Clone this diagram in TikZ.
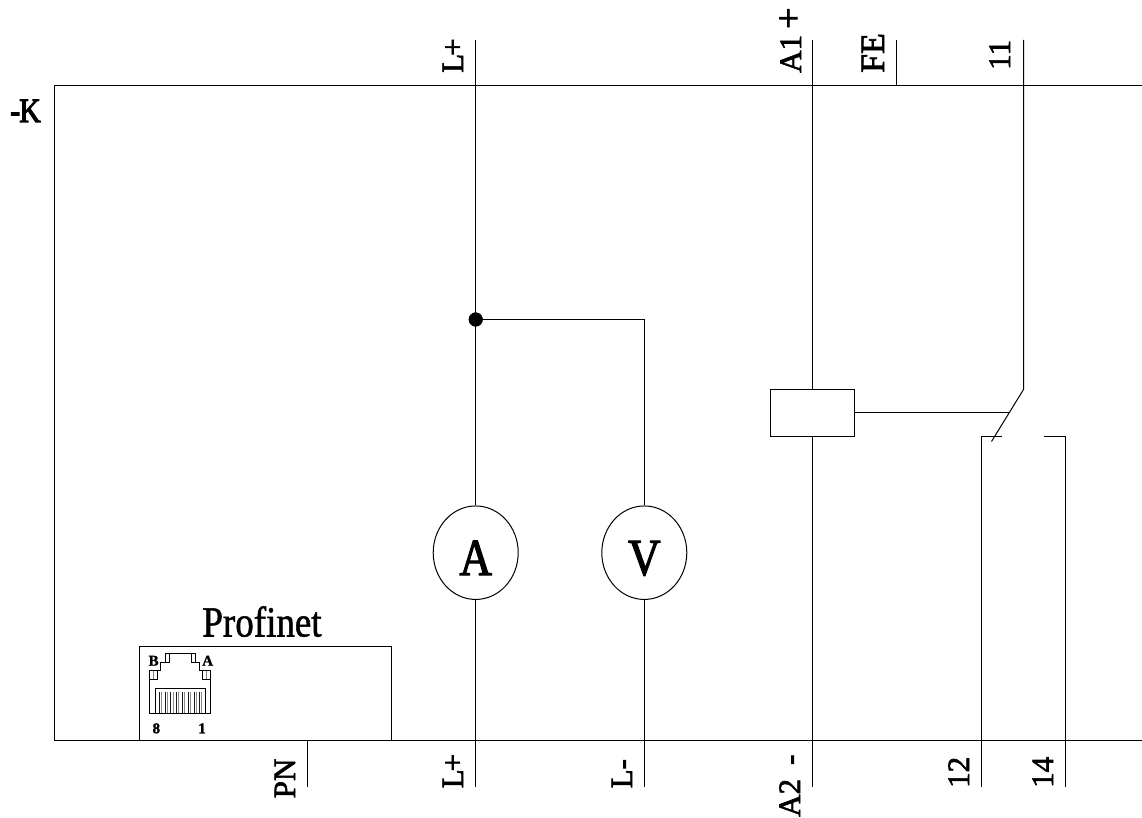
\documentclass[tikz,border=0pt]{standalone}
\usepackage{fontspec}
\setmainfont{Liberation Serif}
\newfontfamily\labf[FakeBold=2]{Liberation Serif}
\newfontfamily\bigf[FakeStretch=0.86,FakeBold=2.2]{Liberation Serif}
\newfontfamily\titf[FakeStretch=0.86,FakeBold=1.2]{Liberation Serif}
\newfontfamily\kf[FakeStretch=0.88,FakeBold=3]{Liberation Serif}
\newfontfamily\smf[FakeBold=1.5]{Liberation Serif Bold}
\usetikzlibrary{shapes.geometric}
\tikzset{
  wire/.style={draw=black,line width=1pt},
  term/.style={rotate=90,anchor=base west,inner sep=0pt,font=\labf\fontsize{31}{31}\selectfont},
  meter/.style={ellipse,draw=black,line width=1pt,minimum width=85pt,minimum height=93.5pt,inner sep=0pt,text height=44.6pt,text depth=0pt,font=\bigf\fontsize{52}{52}\selectfont},
  box/.style={rectangle,draw=black,line width=1pt,inner sep=0pt},
  dotj/.style={circle,fill=black,minimum size=14pt,inner sep=0pt},
  small/.style={inner sep=0pt,font=\smf\fontsize{15}{15}\selectfont},
  thin rj/.style={draw=black,line width=0.8pt}
}
\begin{document}
\begin{tikzpicture}[x=1pt,y=-1pt]
\useasboundingbox[fill=white] (0,0) rectangle (1142,818);
% frame
\coordinate (tr) at (1142,86); \coordinate (tl) at (54,86);
\coordinate (bl) at (54,740); \coordinate (br) at (1142,740);
\draw[wire] (tr) -- (tl) -- (bl) -- (br);
% nodes
\node[meter] (A) at (475.7,552.7) {A};
\node[meter] (V) at (644.3,552.7) {V};
\node[dotj] (J) at (475.7,319.5) {};
\node[box,minimum width=84.4pt,minimum height=47pt] (coil) at (812.5,412.8) {};
\node[box,minimum width=252pt,minimum height=94pt] (pn) at (265,693) {};
\node[font=\titf\fontsize{43}{43}\selectfont,inner sep=0pt,anchor=base] (pnt) at (262,636.5) {Profinet};
\node[font=\kf\fontsize{34}{34}\selectfont,inner sep=0pt,anchor=base west] (k) at (10,122) {-\kern-1pt K};
% terminals
\coordinate (Lt) at (475.7,40); \coordinate (Lb) at (475.7,787);
\coordinate (Mb) at (644.3,787); \coordinate (Mj) at (644.3,319.5);
\coordinate (A1) at (812.5,40); \coordinate (A2) at (812.5,787);
\coordinate (FE) at (896.7,40); \coordinate (FEb) at (896.7,86);
\coordinate (T11) at (1023.5,40); \coordinate (Tk) at (1023.5,389.5);
\coordinate (Td) at (991.5,441.5); \coordinate (Tm) at (1008.5,412.8);
\coordinate (T12) at (981,787); \coordinate (T12a) at (981,436.5); \coordinate (T12b) at (1002,436.5);
\coordinate (T14) at (1065.2,787); \coordinate (T14a) at (1065.2,436.5); \coordinate (T14b) at (1044,436.5);
\coordinate (PNb) at (307,787);
\draw[wire] (Lt) -- (A.north);
\draw[wire] (A.south) -- (Lb);
\draw[wire] (J.center) -- (Mj) -- (V.north);
\draw[wire] (V.south) -- (Mb);
\draw[wire] (A1) -- (coil.north);
\draw[wire] (coil.south) -- (A2);
\draw[wire] (FE) -- (FEb);
\draw[wire] (T11) -- (Tk) -- (Td);
\draw[wire] (coil.east) -- (Tm);
\draw[wire] (T12) -- (T12a) -- (T12b);
\draw[wire] (T14) -- (T14a) -- (T14b);
\draw[wire] (pn.south -| PNb) -- (PNb);
% labels
\node[term] (l1) at (463,73) {L\kern-2pt+};
\node[term] (l2) at (801,73) {A1\kern6pt{\fontsize{38}{38}\selectfont+}};
\node[term] (l3) at (884,73) {\fontsize{34}{34}\selectfont FE};
\node[term] (l4) at (1010,70) {11};
\node[term] (l5) at (295,798.5) {PN};
\node[term] (l6) at (463,788.5) {L\kern-2pt+};
\node[term] (l7) at (632,788.5) {L-};
\node[term] (l8) at (800,817) {A2\kern14pt -};
\node[term] (l9) at (969,788) {12};
\node[term] (l10) at (1053,788) {14};
% RJ45
\begin{scope}[shift={(130,600)},x=0.3333pt,y=-0.3333pt]
\draw[thin rj] (58,340) -- (58,212) -- (92,212) -- (92,188) -- (105,188) -- (105,161) -- (195,161) -- (195,188) -- (208,188) -- (208,212) -- (242,212) -- (242,340) -- cycle;
\draw[thin rj] (105,188) -- (118,188) -- (118,161);
\draw[thin rj] (195,188) -- (183,188) -- (183,161);
\draw[thin rj] (58,238) -- (82,238) -- (82,212);
\draw[thin rj] (242,238) -- (218,238) -- (218,212);
\draw[draw=gray,line width=0.8pt] (70,212) -- (70,238);
\draw[draw=gray,line width=0.8pt] (230,212) -- (230,238);
\draw[thin rj] (76,340) -- (76,265) -- (226,265) -- (226,340);
\foreach \i in {0,...,7}{
  \draw[draw=black!90,line width=0.8pt] ({88+\i*17.3},275) -- ({88+\i*17.3},340);
  \draw[draw=black!45,line width=0.7pt] ({94+\i*17.3},275) -- ({94+\i*17.3},340);
}
\node[small,anchor=base] (rb) at (71,197) {B};
\node[small,anchor=base] (ra) at (233,197) {A};
\node[small,anchor=base] (r8) at (79,400) {8};
\node[small,anchor=base] (r1) at (216,400) {1};
\end{scope}
\node[dotj] at (J) {};
\end{tikzpicture}
\end{document}
